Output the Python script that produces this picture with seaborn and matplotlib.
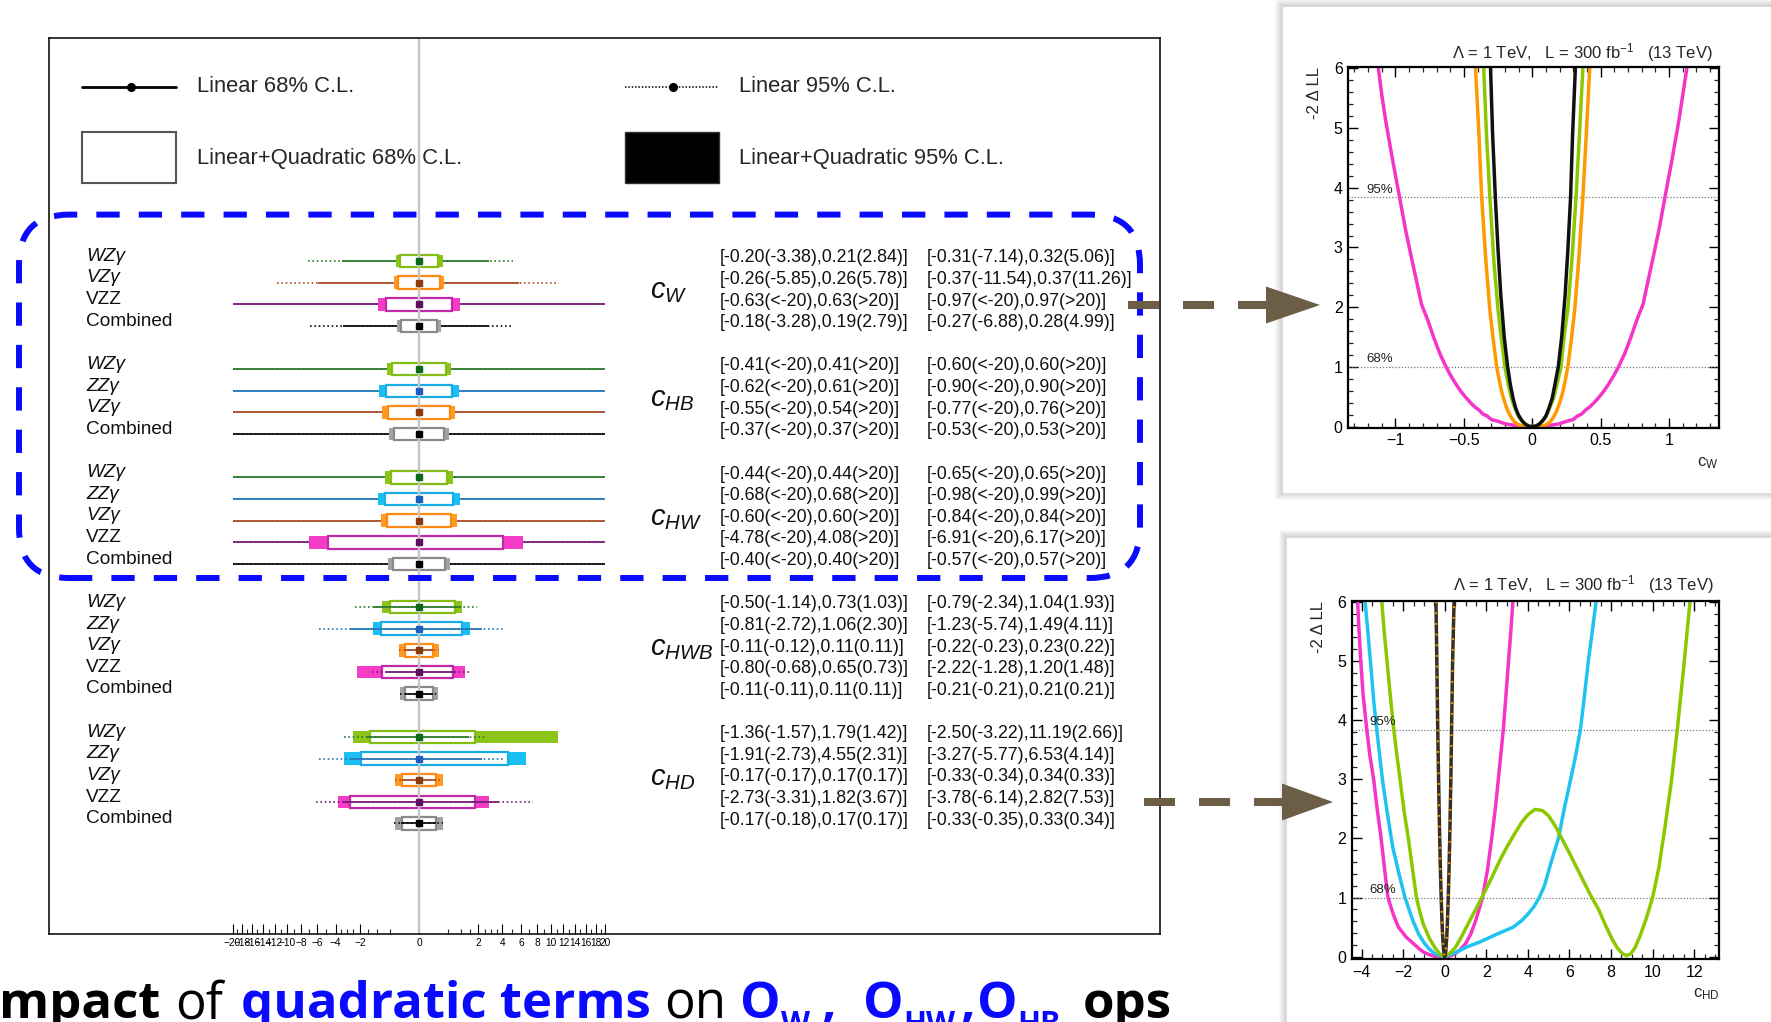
import numpy as np
import matplotlib
matplotlib.use("Agg")
import matplotlib.pyplot as plt
import seaborn as sns
from matplotlib.patches import Rectangle, FancyBboxPatch, Polygon
from matplotlib.lines import Line2D
from matplotlib.transforms import IdentityTransform, blended_transform_factory
from matplotlib.ticker import MultipleLocator, FixedLocator

INF = float("inf")

# ------------------------------------------------------------------
# Limits per operator: linear+quadratic bound (linear-only bound)
# ------------------------------------------------------------------
operators = [r"$c_{W}$", r"$c_{HB}$", r"$c_{HW}$", r"$c_{HWB}$", r"$c_{HD}$"]

cw_procs = ["WZγ", "VZγ", "VZZ", "Combined"]
cw_quad68 = [(-0.20, 0.21), (-0.26, 0.26), (-0.63, 0.63), (-0.18, 0.19)]
cw_lin68 = [(-3.38, 2.84), (-5.85, 5.78), (-INF, INF), (-3.28, 2.79)]
cw_quad95 = [(-0.31, 0.32), (-0.37, 0.37), (-0.97, 0.97), (-0.27, 0.28)]
cw_lin95 = [(-7.14, 5.06), (-11.54, 11.26), (-INF, INF), (-6.88, 4.99)]

chb_procs = ["WZγ", "ZZγ", "VZγ", "Combined"]
chb_quad68 = [(-0.41, 0.41), (-0.62, 0.61), (-0.55, 0.54), (-0.37, 0.37)]
chb_lin68 = [(-INF, INF)] * 4
chb_quad95 = [(-0.60, 0.60), (-0.90, 0.90), (-0.77, 0.76), (-0.53, 0.53)]
chb_lin95 = [(-INF, INF)] * 4

chw_procs = ["WZγ", "ZZγ", "VZγ", "VZZ", "Combined"]
chw_quad68 = [(-0.44, 0.44), (-0.68, 0.68), (-0.60, 0.60), (-4.78, 4.08), (-0.40, 0.40)]
chw_lin68 = [(-INF, INF)] * 5
chw_quad95 = [(-0.65, 0.65), (-0.98, 0.99), (-0.84, 0.84), (-6.91, 6.17), (-0.57, 0.57)]
chw_lin95 = [(-INF, INF)] * 5

chwb_procs = ["WZγ", "ZZγ", "VZγ", "VZZ", "Combined"]
chwb_quad68 = [(-0.50, 0.73), (-0.81, 1.06), (-0.11, 0.11), (-0.80, 0.65), (-0.11, 0.11)]
chwb_lin68 = [(-1.14, 1.03), (-2.72, 2.30), (-0.12, 0.11), (-0.68, 0.73), (-0.11, 0.11)]
chwb_quad95 = [(-0.79, 1.04), (-1.23, 1.49), (-0.22, 0.23), (-2.22, 1.20), (-0.21, 0.21)]
chwb_lin95 = [(-2.34, 1.93), (-5.74, 4.11), (-0.23, 0.22), (-1.28, 1.48), (-0.21, 0.21)]

chd_procs = ["WZγ", "ZZγ", "VZγ", "VZZ", "Combined"]
chd_quad68 = [(-1.36, 1.79), (-1.91, 4.55), (-0.17, 0.17), (-2.73, 1.82), (-0.17, 0.17)]
chd_lin68 = [(-1.57, 1.42), (-2.73, 2.31), (-0.17, 0.17), (-3.31, 3.67), (-0.18, 0.17)]
chd_quad95 = [(-2.50, 11.19), (-3.27, 6.53), (-0.33, 0.34), (-3.78, 2.82), (-0.33, 0.33)]
chd_lin95 = [(-3.22, 2.66), (-5.77, 4.14), (-0.34, 0.33), (-6.14, 7.53), (-0.35, 0.34)]

groups = [
    (cw_procs, cw_quad68, cw_lin68, cw_quad95, cw_lin95),
    (chb_procs, chb_quad68, chb_lin68, chb_quad95, chb_lin95),
    (chw_procs, chw_quad68, chw_lin68, chw_quad95, chw_lin95),
    (chwb_procs, chwb_quad68, chwb_lin68, chwb_quad95, chwb_lin95),
    (chd_procs, chd_quad68, chd_lin68, chd_quad95, chd_lin95),
]
# groups whose linear intervals are drawn over the boxes
lines_over_box = [False, False, False, True, True]

x_range_max = 20.0
axis_major = [-20, -18, -16, -14, -12, -10, -8, -6, -4, -2, 0, 2, 4, 6, 8, 10, 12, 14, 16, 18, 20]
axis_minor_pos = [0.5, 1, 1.5, 2.5, 3, 3.5, 5, 7, 9, 11, 13, 15, 17, 19]

# -2 Delta LL scans, c_W
cw_vzz_x = [-1.125, -1.10, -1.07, -1.02, -0.97, -0.93, -0.89, -0.85, -0.81, -0.765, -0.72, -0.675, -0.63,
            -0.595, -0.56, -0.525, -0.49, -0.455, -0.42, -0.39, -0.36, -0.33, -0.30, -0.25, -0.20, -0.15,
            -0.10, -0.05, 0.0,
            0.05, 0.10, 0.15, 0.20, 0.25, 0.30, 0.33, 0.36, 0.39, 0.42, 0.455, 0.49, 0.525, 0.56, 0.595,
            0.63, 0.675, 0.72, 0.765, 0.81, 0.85, 0.89, 0.93, 0.97, 1.02, 1.07, 1.10, 1.13]
cw_vzz_y = [6.0, 5.55, 5.1, 4.45, 3.84, 3.34, 2.9, 2.48, 2.05, 1.79, 1.49, 1.22, 1.0,
            0.85, 0.72, 0.6, 0.5, 0.41, 0.33, 0.28, 0.21, 0.18, 0.12, 0.09, 0.05, 0.03,
            0.01, 0.003, 0.0,
            0.003, 0.01, 0.03, 0.05, 0.09, 0.12, 0.18, 0.21, 0.28, 0.33, 0.41, 0.5, 0.6, 0.72, 0.85,
            1.0, 1.22, 1.49, 1.79, 2.05, 2.48, 2.9, 3.34, 3.84, 4.45, 5.1, 5.55, 6.0]
cw_vzg_x = [-0.415, -0.39, -0.37, -0.34, -0.31, -0.285, -0.26, -0.24, -0.22, -0.20, -0.18, -0.155,
            -0.13, -0.10, -0.07, -0.035, 0.0,
            0.035, 0.07, 0.10, 0.13, 0.155, 0.18, 0.20, 0.22, 0.24, 0.26, 0.285, 0.31, 0.34, 0.37, 0.395, 0.42]
cw_vzg_y = [6.0, 4.9, 3.84, 2.8, 1.95, 1.45, 1.0, 0.76, 0.55, 0.4, 0.27, 0.16,
            0.08, 0.03, 0.01, 0.002, 0.0,
            0.002, 0.01, 0.03, 0.08, 0.16, 0.27, 0.4, 0.55, 0.76, 1.0, 1.45, 1.95, 2.8, 3.84, 4.9, 6.0]
cw_wzg_x = [-0.355, -0.335, -0.31, -0.28, -0.25, -0.23, -0.20, -0.175, -0.15, -0.125, -0.10, -0.075,
            -0.05, -0.025, 0.0,
            0.025, 0.05, 0.075, 0.10, 0.125, 0.155, 0.18, 0.21, 0.235, 0.26, 0.29, 0.32, 0.345, 0.37]
cw_wzg_y = [6.0, 4.9, 3.84, 2.75, 1.95, 1.55, 1.0, 0.7, 0.46, 0.3, 0.17, 0.09,
            0.04, 0.01, 0.0,
            0.01, 0.04, 0.09, 0.17, 0.3, 0.47, 0.7, 1.0, 1.55, 1.97, 2.8, 3.84, 4.9, 6.0]
cw_comb_x = [-0.305, -0.29, -0.27, -0.25, -0.23, -0.205, -0.18, -0.16, -0.14, -0.12, -0.10, -0.075,
             -0.05, -0.025, 0.0,
             0.025, 0.05, 0.075, 0.10, 0.12, 0.145, 0.165, 0.19, 0.215, 0.24, 0.26, 0.28, 0.295, 0.315]
cw_comb_y = [6.0, 4.9, 3.84, 2.95, 2.2, 1.5, 1.0, 0.7, 0.47, 0.3, 0.19, 0.1,
             0.04, 0.01, 0.0,
             0.01, 0.04, 0.1, 0.18, 0.3, 0.47, 0.7, 1.0, 1.5, 2.2, 2.95, 3.84, 4.9, 6.0]

# -2 Delta LL scans, c_HD
chd_vzz_x = [-4.19, -4.12, -4.04, -3.92, -3.75, -3.6, -3.42, -3.25, -3.06, -2.9, -2.73, -2.48, -2.23,
             -1.85, -1.5, -1.25, -1.03, -0.75, -0.5, -0.25, 0.0,
             0.25, 0.5, 0.75, 1.0, 1.25, 1.5, 1.82, 2.05, 2.26, 2.45, 2.58, 2.82, 3.05, 3.18, 3.28]
chd_vzz_y = [6.0, 5.5, 5.0, 4.4, 3.84, 3.4, 3.0, 2.5, 2.0, 1.5, 1.0, 0.72, 0.5,
             0.33, 0.22, 0.14, 0.08, 0.035, 0.01, 0.002, 0.0,
             0.01, 0.05, 0.12, 0.22, 0.38, 0.62, 1.0, 1.45, 2.0, 2.55, 3.0, 3.84, 4.9, 5.5, 6.0]
chd_zzg_x = [-3.83, -3.7, -3.55, -3.41, -3.27, -3.0, -2.75, -2.5, -2.2, -1.91, -1.7, -1.5, -1.25,
             -1.0, -0.75, -0.5, -0.25, 0.0,
             0.25, 0.58, 1.1, 1.7, 2.5, 3.3, 3.7, 4.03, 4.3, 4.55, 4.8, 5.04, 5.25, 5.47, 5.75,
             6.06, 6.3, 6.53, 6.72, 6.91, 7.1, 7.28]
chd_zzg_y = [6.0, 5.5, 4.9, 4.3, 3.84, 3.0, 2.4, 1.85, 1.4, 1.0, 0.78, 0.58, 0.38,
             0.24, 0.13, 0.06, 0.02, 0.0,
             0.03, 0.08, 0.17, 0.25, 0.38, 0.5, 0.61, 0.73, 0.85, 1.0, 1.2, 1.5, 1.75, 2.0, 2.5,
             3.0, 3.4, 3.84, 4.4, 5.0, 5.5, 6.0]
chd_wzg_x = [-3.03, -2.9, -2.75, -2.6, -2.45, -2.3, -2.15, -1.95, -1.75, -1.55, -1.36, -1.2, -1.03,
             -0.75, -0.47, -0.22, 0.0,
             0.25, 0.5, 0.75, 1.0, 1.4, 1.79, 2.1, 2.4, 2.7, 3.0, 3.35, 3.7, 4.0, 4.35, 4.7, 5.0,
             5.3, 5.63, 6.0, 6.5, 7.0, 7.4, 7.75, 8.05, 8.3, 8.55, 8.76, 8.95, 9.15, 9.4, 9.7,
             10.0, 10.3, 10.6, 10.9, 11.19, 11.5, 11.8]
chd_wzg_y = [6.0, 5.45, 4.9, 4.35, 3.84, 3.4, 3.0, 2.45, 2.0, 1.48, 1.0, 0.76, 0.55,
             0.32, 0.15, 0.04, 0.0,
             0.06, 0.15, 0.3, 0.47, 0.74, 1.0, 1.22, 1.44, 1.66, 1.86, 2.07, 2.27, 2.4, 2.49, 2.47, 2.38,
             2.22, 2.0, 1.75, 1.4, 1.05, 0.8, 0.52, 0.3, 0.15, 0.05, 0.02, 0.05, 0.15, 0.35, 0.65,
             1.0, 1.5, 2.2, 2.95, 3.84, 4.9, 6.0]
chd_comb_x = [-0.42, -0.38, -0.335, -0.30, -0.25, -0.21, -0.17, -0.13, -0.10, -0.05, 0.0,
              0.05, 0.10, 0.13, 0.17, 0.21, 0.25, 0.30, 0.33, 0.38, 0.45]
chd_comb_y = [6.0, 5.0, 3.84, 3.1, 2.16, 1.5, 1.0, 0.58, 0.35, 0.09, 0.0,
              0.09, 0.35, 0.58, 1.0, 1.5, 2.16, 3.1, 3.84, 5.0, 6.0]

cl_levels = [1.0, 3.84]
cl_names = ["68%", "95%"]

# ------------------------------------------------------------------
STYLE = {
    "WZγ": dict(box="#84bb16", fill="#8cc41c", line="#2e7d32", dot="#0a6a1a"),
    "ZZγ": dict(box="#19ace6", fill="#1bc0f2", line="#2a78b8", dot="#1d5fbf"),
    "VZγ": dict(box="#ff8a12", fill="#ff9a22", line="#a8512a", dot="#8a3b10"),
    "VZZ": dict(box="#c02aa8", fill="#f43cc6", line="#7b1f7b", dot="#5e0f5e"),
    "Combined": dict(box="#8a8a8a", fill="#a3a3a3", line="#111111", dot="#000000"),
}
CURVE = {"VZZ": "#f535c8", "VZγ": "#ff9a00", "WZγ": "#8cc800", "ZZγ": "#1ec3f0", "Combined": "#111111"}
ARROW = "#6b5d46"
BLUE = "#0a0aff"

sns.set_theme(style="white")
plt.rcParams["font.family"] = ["Liberation Sans", "DejaVu Sans"]
plt.rcParams["mathtext.fontset"] = "custom"
plt.rcParams["mathtext.it"] = "Liberation Sans:italic"
plt.rcParams["mathtext.rm"] = "Liberation Sans"
plt.rcParams["mathtext.bf"] = "Liberation Sans:bold"
plt.rcParams["axes.unicode_minus"] = True

W, H = 1771, 1022
fig = plt.figure(figsize=(W / 100, H / 100), dpi=100)
fig.patch.set_facecolor("white")
PX = IdentityTransform()


def fmt_bound(v):
    if v == -INF:
        return "<-20"
    if v == INF:
        return ">20"
    return f"{v:.2f}"


def clip(v):
    return float(np.clip(v, -x_range_max, x_range_max))


# ------------------------------------------------------------------
# main summary panel
# ------------------------------------------------------------------
ax = fig.add_axes([48.6 / W, 1 - 934 / H, (1160 - 48.6) / W, (934 - 38.4) / H])
ax.set_facecolor("white")
fwd = lambda v: np.sign(v) * np.sqrt(np.abs(v))
inv = lambda v: np.sign(v) * np.square(v)
ax.set_xscale("function", functions=(fwd, inv))
ax.set_xlim(-78.9, 315.8)
ax.set_ylim(31.11, -10.29)
for s in ax.spines.values():
    s.set_color("black")
    s.set_linewidth(1.1)
bt = blended_transform_factory(ax.transAxes, ax.transData)

ax.axvline(0, color="#c6c6c6", lw=1.7, zorder=2.5)

BOX_H = 0.58
start = 0
for g, (procs, q68, l68, q95, l95) in enumerate(groups):
    zl = 2.6 if lines_over_box[g] else 1.0
    for i, p in enumerate(procs):
        y = start + i
        st = STYLE[p]
        ax.hlines(y, clip(l95[i][0]), clip(l95[i][1]), colors=st["line"], lw=1.2,
                  linestyles=(0, (1.0, 1.6)), zorder=zl)
        ax.hlines(y, clip(l68[i][0]), clip(l68[i][1]), colors=st["line"], lw=1.3, zorder=zl)
        ax.barh(y, q95[i][1] - q95[i][0], left=q95[i][0], height=BOX_H,
                color=st["fill"], lw=0, zorder=1.5)
        ax.barh(y, q68[i][1] - q68[i][0], left=q68[i][0], height=BOX_H,
                facecolor="white", edgecolor=st["box"], lw=1.6, zorder=2)
        ax.plot([0], [y], marker="s", ms=4.6, color=st["dot"], mec=st["dot"], zorder=4)
        ax.text(0.0337, y - 0.22, p, transform=bt, fontsize=13.7, va="center", ha="left",
                style="italic" if "γ" in p else "normal", color="#111111")
        c1 = f"[{fmt_bound(q68[i][0])}({fmt_bound(l68[i][0])}),{fmt_bound(q68[i][1])}({fmt_bound(l68[i][1])})]"
        c2 = f"[{fmt_bound(q95[i][0])}({fmt_bound(l95[i][0])}),{fmt_bound(q95[i][1])}({fmt_bound(l95[i][1])})]"
        ax.text(0.6037, y - 0.15, c1, transform=bt, fontsize=12.8, va="center", ha="left", color="#111111")
        ax.text(0.7903, y - 0.15, c2, transform=bt, fontsize=12.8, va="center", ha="left", color="#111111")
    mid = start + (len(procs) - 1) / 2
    ax.text(0.5411, mid - 0.1, operators[g], transform=bt, fontsize=21, va="center", ha="left", color="#111111")
    start += len(procs) + 1

# legend block
ly1, ly2 = -8.05, -4.75
ax.plot([0.030, 0.1146], [ly1, ly1], transform=bt, color="black", lw=2.0, zorder=3)
ax.plot([0.0741], [ly1], transform=bt, marker="o", ms=5.5, color="black", zorder=3)
ax.text(0.1331, ly1, "Linear 68% C.L.", transform=bt, fontsize=15.8, va="center", ha="left")
ax.plot([0.5185, 0.6023], [ly1, ly1], transform=bt, color="black", lw=1.1,
        linestyle=(0, (1.0, 1.2)), zorder=3)
ax.plot([0.5618], [ly1], transform=bt, marker="o", ms=5.5, color="black", zorder=3)
ax.text(0.6212, ly1, "Linear 95% C.L.", transform=bt, fontsize=15.8, va="center", ha="left")
ax.add_patch(Rectangle((0.030, -5.96), 0.0846, 2.35, transform=bt, facecolor="white",
                       edgecolor="#555555", lw=1.5, zorder=3))
ax.text(0.1331, ly2, "Linear+Quadratic 68% C.L.", transform=bt, fontsize=15.8, va="center", ha="left")
ax.add_patch(Rectangle((0.5185, -5.96), 0.0846, 2.35, transform=bt, facecolor="black",
                       edgecolor="#333333", lw=1.0, zorder=3))
ax.text(0.6212, ly2, "Linear+Quadratic 95% C.L.", transform=bt, fontsize=15.8, va="center", ha="left")

# bottom axis ticks
ax.xaxis.set_major_locator(FixedLocator(axis_major))
ax.set_xticklabels([str(v).replace("-", "\u2212") for v in axis_major])
ax.xaxis.set_minor_locator(FixedLocator(axis_minor_pos + [-v for v in axis_minor_pos]))
ax.tick_params(axis="x", which="major", direction="in", length=7.5, width=0.8, labelsize=7.3,
               pad=3, bottom=True, top=False, colors="black")
ax.tick_params(axis="x", which="minor", direction="in", length=3.8, width=0.8, bottom=True, top=False)
ax.tick_params(axis="y", left=False, labelleft=False, right=False)
ax.set_xlabel("")
ax.set_ylabel("")

# ------------------------------------------------------------------
# likelihood scan panels
# ------------------------------------------------------------------
def panel_background(x0, ytop, ybot):
    for k in range(7, 0, -1):
        fig.add_artist(Rectangle((x0 - k, ybot - k), W + 20, ytop - ybot + 2 * k, transform=PX,
                                 facecolor="#000000", alpha=0.025, lw=0, zorder=-11))
    fig.add_artist(Rectangle((x0, ybot), W + 20, ytop - ybot, transform=PX,
                             facecolor="white", edgecolor="#dddddd", lw=0.8, zorder=-10))


panel_background(1282, H - 5.6, H - 493)
panel_background(1286, H - 537, -40)


def scan_panel(rect, xlim, ylim, curves, xmajor, xminor, xlabels, xlab, lab_x, title_y):
    a = fig.add_axes(rect)
    a.set_facecolor("white")
    for x, y, c, ls, lw in curves:
        sns.lineplot(x=x, y=y, ax=a, color=c, lw=lw, sort=False, estimator=None,
                     linestyle=ls, legend=False)
    for lev, nm in zip(cl_levels, cl_names):
        a.axhline(lev, color="#777777", lw=0.9, linestyle=(0, (1.0, 1.5)), zorder=1)
        a.text(lab_x, lev + 0.03, nm, fontsize=9.5, ha="left", va="bottom", color="#222222")
    a.set_xlim(*xlim)
    a.set_ylim(*ylim)
    a.xaxis.set_major_locator(FixedLocator(xmajor))
    a.set_xticklabels(xlabels)
    a.xaxis.set_minor_locator(MultipleLocator(xminor))
    a.yaxis.set_major_locator(MultipleLocator(1))
    a.yaxis.set_minor_locator(MultipleLocator(0.2))
    a.tick_params(which="major", direction="in", length=7, width=1.0, top=True, right=True,
                  bottom=True, left=True, labelsize=11.5, pad=4, colors="black")
    a.tick_params(which="minor", direction="in", length=3.5, width=0.9, top=True, right=True,
                  bottom=True, left=True)
    for s in a.spines.values():
        s.set_color("black")
        s.set_linewidth(1.6)
    a.set_xlabel("")
    a.set_ylabel("")
    a.text(0.985, title_y, r"$\Lambda$ = 1 TeV,   L = 300 fb$^{-1}$   (13 TeV)", transform=a.transAxes,
           ha="right", va="baseline", fontsize=12)
    a.text(-0.09, 1.0, "-2 \u0394 LL", transform=a.transAxes, rotation=90, ha="center", va="top",
           fontsize=12)
    a.text(1.0, -0.097, xlab, transform=a.transAxes, ha="right", va="center", fontsize=12)
    return a


top_curves = [
    (cw_vzz_x, cw_vzz_y, CURVE["VZZ"], "-", 2.5),
    (cw_vzg_x, cw_vzg_y, CURVE["VZγ"], "-", 2.5),
    (cw_wzg_x, cw_wzg_y, CURVE["WZγ"], "-", 2.5),
    (cw_comb_x, cw_comb_y, CURVE["Combined"], "-", 2.5),
]
scan_panel([1348.3 / W, 1 - 427.7 / H, (1718.7 - 1348.3) / W, (427.7 - 66.7) / H],
           (-1.345, 1.363), (-0.017, 6.027), top_curves,
           [-1, -0.5, 0, 0.5, 1], 0.1, ["\u22121", "\u22120.5", "0", "0.5", "1"],
           r"c$_{\mathrm{W}}$", -1.21, 1.024)

bot_curves = [
    (chd_vzz_x, chd_vzz_y, CURVE["VZZ"], "-", 2.5),
    (chd_zzg_x, chd_zzg_y, CURVE["ZZγ"], "-", 2.5),
    (chd_wzg_x, chd_wzg_y, CURVE["WZγ"], "-", 2.5),
    (chd_comb_x, chd_comb_y, "#3a2e20", "-", 2.5),
    (chd_comb_x, chd_comb_y, CURVE["VZγ"], (0, (0.8, 4.0)), 1.6),
]
xt = [-4, -2, 0, 2, 4, 6, 8, 10, 12]
scan_panel([1351.7 / W, 1 - 959 / H, (1719.3 - 1351.7) / W, (959 - 601) / H],
           (-4.475, 13.21), (-0.039, 6.012), bot_curves,
           xt, 0.5, [str(v).replace("-", "\u2212") for v in xt],
           r"c$_{\mathrm{HD}}$", -3.63, 1.031)

# ------------------------------------------------------------------
# annotations: highlight box and arrows
# ------------------------------------------------------------------
fig.add_artist(FancyBboxPatch((19, H - 578), 1121, 578 - 214.6,
                              boxstyle="round,pad=0,rounding_size=50", transform=PX,
                              facecolor="none", edgecolor=BLUE, lw=4.3,
                              linestyle=(0, (3.9, 3.2)), zorder=6))


def dashed_arrow(x0, x1, xtip, y, half=18.5):
    fig.add_artist(Line2D([x0, x1], [y, y], transform=PX, color=ARROW, lw=5.8,
                          linestyle=(0, (3.85, 2.98)), dash_capstyle="butt", zorder=7))
    fig.add_artist(Polygon([(x1 - 2, y + half), (x1 - 2, y - half), (xtip, y)], closed=True,
                           transform=PX, facecolor=ARROW, edgecolor="none", zorder=7))


dashed_arrow(1128, 1268, 1320, H - 305)
dashed_arrow(1144, 1284, 1333, H - 802)

# ------------------------------------------------------------------
# slide caption along the bottom edge
# ------------------------------------------------------------------
renderer = fig.canvas.get_renderer()
cap_font = ["Open Sans", "DejaVu Sans"]
pieces = [
    ("Impact", "bold", "black", 36.7, 0, 15),
    ("of", "normal", "black", 36.7, 0, 18),
    ("quadratic terms", "bold", BLUE, 36.7, 0, 13),
    ("on", "normal", "black", 36.7, 0, 14),
    ("O", "bold", BLUE, 36.7, 0, 0),
    ("W", "bold", BLUE, 21.6, -15, 12),
    (",", "bold", BLUE, 36.7, 0, 26),
    ("O", "bold", BLUE, 36.7, 0, 0),
    ("HW", "bold", BLUE, 21.6, -15, 5),
    (",", "bold", BLUE, 36.7, 0, 2),
    ("O", "bold", BLUE, 36.7, 0, 0),
    ("HB", "bold", BLUE, 21.6, -15, 22),
    ("ops", "bold", "black", 36.7, 0, 0),
]
cx = -18.0
for txt, wt, col, size, dy, gap in pieces:
    t = fig.text(cx, 4 + dy, txt, transform=PX, fontsize=size, fontweight=wt, color=col,
                 family=cap_font, ha="left", va="baseline")
    bb = t.get_window_extent(renderer)
    cx = bb.x1 + gap

fig.savefig("out.png", dpi=100, facecolor="white")
